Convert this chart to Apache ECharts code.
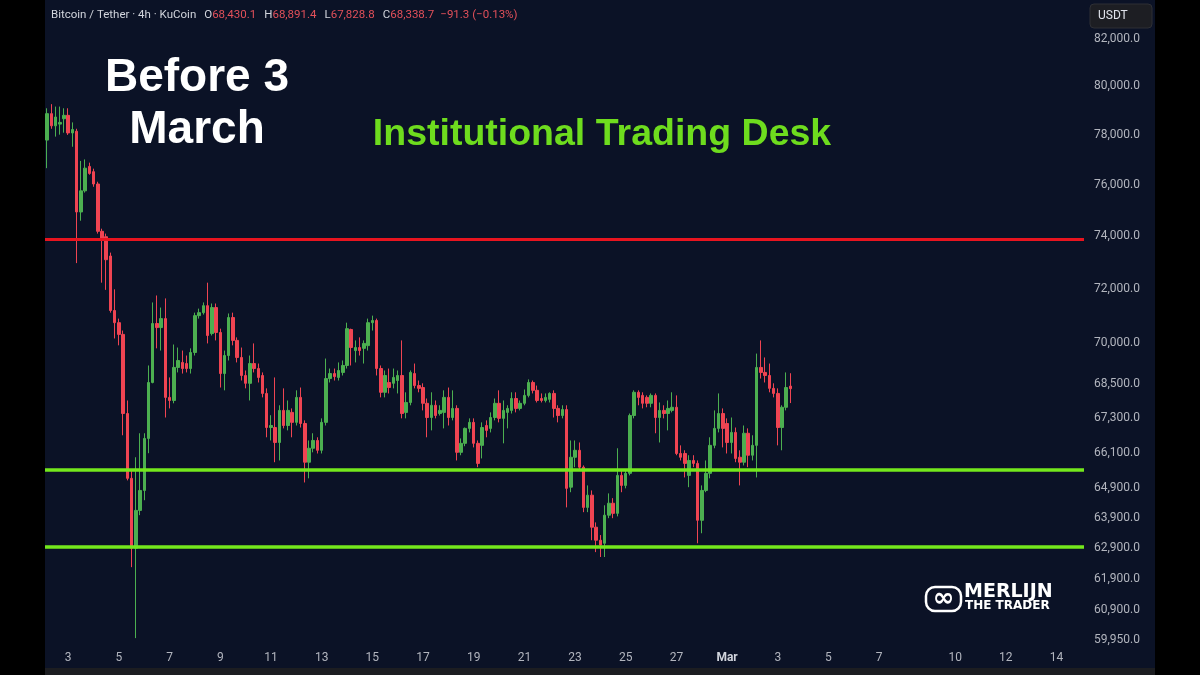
<!DOCTYPE html>
<html>
<head>
<meta charset="utf-8">
<script src="https://cdn.jsdelivr.net/npm/echarts@6/dist/echarts.min.js"></script>
<style>
  html, body { margin: 0; padding: 0; background: #000; }
  #chart { width: 1200px; height: 675px; }
</style>
</head>
<body>
<div id="chart"></div>
<script>
// BTC/USDT 4h candles, KuCoin — first candle opens 2 Feb 04:00 UTC
const firstCandle = Date.UTC(2026, 1, 2, 4, 0);
const slotCount = 246;             // 4h slots shown on the time axis (to mid-March)

const openP = [
  77790, 78870, 78370, 78440, 78660, 78800, 78080, 78150, 74930, 75760,
  76730, 76520, 76030, 74180, 73970, 73230, 71180, 70730, 70300, 67460,
  65220, 62890, 64140, 64810, 66590, 68560, 70700, 70550, 70880, 68030,
  67920, 69100, 69280, 69240, 69060, 69640, 70990, 71100, 71360, 70330,
  71290, 70370, 68880, 69530, 70920, 70080, 69460, 68810, 68530, 69240,
  69060, 68810, 68170, 66970, 66970, 66450, 67570, 67040, 67500, 67150,
  68030, 67110, 65770, 66250, 66520, 66180, 67150, 68700, 68880, 68740,
  68920, 69170, 70480, 69710, 69820, 69790, 69890, 70730, 70810, 69060,
  68210, 68560, 68530, 68630, 68810, 67500, 67850, 68880, 68450, 68380,
  67820, 67320, 67750, 67460, 67500, 68030, 67320, 67640, 66110, 66420,
  66940, 67150, 66420, 66350, 67040, 66940, 67320, 67820, 67290, 67500,
  67570, 67990, 67640, 67820, 68100, 68560, 68280, 67990, 67920, 67960,
  68170, 67640, 67390, 67600, 64920, 65940, 66180, 65600, 64240, 64650,
  63580, 63150, 63050, 63980, 64380, 64040, 65320, 64980, 65390, 67390,
  68210, 68100, 68030, 67820, 68100, 67320, 67570, 67460, 67570, 67680,
  66070, 66070, 65320, 65830, 65730, 63810, 64810, 65390, 66350, 66940,
  67460, 67110, 66450, 66800, 65940, 65770, 66770, 66010, 66350, 69100,
  68920, 68810, 68350, 68170, 66970, 67680, 68430.1
];
const closeP = [
  78870, 78370, 78730, 78510, 78800, 78080, 78220, 74930, 75760, 76660,
  76450, 76030, 74180, 73910, 73090, 71180, 70730, 70300, 67460, 65220,
  62890, 64140, 64810, 66590, 68560, 70700, 70550, 70880, 68030, 67920,
  69100, 69350, 69060, 69060, 69640, 70990, 71100, 71360, 70260, 71290,
  70370, 68880, 69530, 70920, 70080, 69460, 68810, 68530, 69240, 69060,
  68740, 68170, 66970, 67040, 66450, 67570, 67040, 67570, 67150, 68030,
  67110, 65770, 66250, 66520, 66180, 67150, 68700, 68880, 68770, 68990,
  69170, 70510, 69820, 69820, 69710, 69970, 70730, 70810, 69060, 68210,
  68810, 68380, 68740, 68810, 67460, 67850, 68920, 68450, 68350, 67820,
  67320, 67750, 67390, 67570, 68030, 67320, 67640, 66110, 66420, 66940,
  67150, 66420, 65730, 66970, 66870, 67320, 67820, 67290, 67570, 67640,
  67990, 67640, 67820, 68100, 68560, 68280, 67920, 67920, 68030, 68170,
  67640, 67390, 67600, 64880, 65940, 66180, 65600, 64240, 64650, 63580,
  63150, 62990, 63980, 64380, 64040, 65320, 64980, 65390, 67390, 68210,
  68030, 67820, 67820, 68100, 67320, 67570, 67460, 67640, 67680, 66070,
  65940, 65730, 65830, 65730, 63810, 64810, 65390, 66350, 66940, 67460,
  66940, 66450, 66800, 65900, 65770, 66770, 66010, 66350, 69100, 68920,
  68810, 68350, 68170, 66970, 67680, 68380, 68338.7
];
const lowP = [
  76660, 78250, 77930, 78010, 78090, 78000, 77520, 72960, 74590, 75690,
  76400, 75920, 74090, 72220, 71950, 71100, 70150, 69900, 66700, 65150,
  62270, 60010, 63980, 64480, 66080, 68530, 69790, 69710, 67320, 67640,
  67820, 68920, 68880, 68920, 68880, 69530, 70880, 71030, 69970, 70260,
  70080, 68380, 68280, 69350, 69900, 69280, 68630, 68350, 67920, 68920,
  68560, 68030, 66630, 66520, 65770, 65830, 66940, 66870, 66630, 67040,
  66970, 65080, 65220, 66110, 66070, 66070, 67040, 68560, 68630, 68630,
  68810, 69060, 69170, 69280, 69530, 69240, 69710, 70440, 68810, 68030,
  68030, 68170, 68350, 68170, 67290, 67290, 67750, 68350, 68210, 67570,
  66630, 66870, 67290, 67390, 66940, 67040, 67220, 65830, 66010, 66320,
  66800, 66280, 65600, 65900, 66630, 66800, 67220, 67150, 66420, 66940,
  67460, 67500, 67570, 67750, 68030, 68170, 67850, 67850, 67850, 67850,
  67320, 67150, 67290, 64240, 64750, 65600, 65490, 64080, 64080, 63150,
  62760, 62600, 62600, 63880, 63880, 63940, 64750, 64880, 65320, 67290,
  67750, 67640, 67680, 67680, 66770, 66450, 67290, 66870, 67500, 66010,
  65830, 65250, 64920, 65600, 63050, 63380, 64750, 65220, 66250, 66800,
  66280, 66070, 66070, 65770, 64980, 65660, 65600, 65830, 65250, 68700,
  68560, 68210, 68030, 66350, 66180, 67570, 67828.8
];
const highP = [
  79090, 79260, 79160, 79160, 79090, 79090, 78510, 78250, 76950, 77010,
  76880, 76640, 76120, 74280, 74090, 73360, 71970, 70880, 70440, 67920,
  65490, 65940, 66770, 66770, 69170, 71480, 71740, 71290, 71630, 68740,
  69930, 69820, 69710, 69530, 69790, 71100, 71250, 71480, 72220, 71440,
  71440, 70510, 69710, 71070, 71100, 70190, 69820, 68990, 69530, 69970,
  69240, 68920, 68350, 67400, 68740, 67750, 68350, 67920, 67640, 68280,
  68380, 67220, 66520, 66770, 66630, 67290, 69420, 69060, 69060, 69280,
  69350, 70730, 70510, 70080, 70190, 70080, 70880, 70990, 70880, 69170,
  68990, 69060, 69060, 68990, 70080, 68210, 68990, 69240, 68630, 68530,
  67990, 68210, 67920, 67750, 68280, 68380, 68280, 67750, 66590, 66970,
  67290, 67290, 66520, 67150, 67220, 67500, 67990, 68280, 67920, 67750,
  68210, 68210, 67920, 68310, 68670, 68630, 68450, 68170, 68170, 68210,
  68280, 67750, 67750, 67750, 66520, 66520, 66450, 65660, 64980, 64810,
  63740, 63320, 64310, 64710, 64550, 66250, 65490, 65490, 67460, 68280,
  68280, 68210, 68100, 68170, 68170, 67850, 67750, 67920, 68210, 68100,
  66350, 66180, 66010, 66010, 65830, 64980, 65830, 66630, 67570, 68170,
  67640, 67290, 67320, 66970, 66180, 67040, 66940, 66700, 69600, 70080,
  69460, 69240, 68530, 68350, 67750, 68920, 68891.4
];

// price-scale labels (log scale)
const priceTicks = [82000, 80000, 78000, 76000, 74000, 72000, 70000, 68500,
                    67300, 66100, 64900, 63900, 62900, 61900, 60900, 59950];
const priceRange = [59795, 83637];
// day labels on the time scale (MM-DD at 00:00)
const dayTicks = ['02-03', '02-05', '02-07', '02-09', '02-11', '02-13', '02-15',
                  '02-17', '02-19', '02-21', '02-23', '02-25', '02-27', '03-01',
                  '03-03', '03-05', '03-07', '03-10', '03-12', '03-14'];
// drawn horizontal levels
const resistanceLevels = [73670];
const supportLevels = [65640, 62750];

const pad = n => (n < 10 ? '0' : '') + n;
const slots = [];
for (let i = 0; i < slotCount; i++) {
  const d = new Date(firstCandle + i * 4 * 3600 * 1000);
  slots.push(pad(d.getUTCMonth() + 1) + '-' + pad(d.getUTCDate()) + ' ' + pad(d.getUTCHours()));
}
const tickSet = new Set(dayTicks.map(d => d + ' 00'));

const candles = openP.map((o, i) => [Math.log(o), Math.log(closeP[i]), Math.log(lowP[i]), Math.log(highP[i])]);

function fmtPrice(v) {
  const n = Math.round(Math.exp(v));
  return String(n).replace(/\B(?=(\d{3})+(?!\d))/g, ',') + '.0';
}

const UP = '#4caf50', DOWN = '#ef4452';
const FONT = 'Roboto, "Noto Sans", sans-serif';

const chart = echarts.init(document.getElementById('chart'), null, { renderer: 'canvas' });
chart.setOption({
  animation: false,
  backgroundColor: '#0b1226',
  grid: { left: 45, right: 116, top: 1, bottom: 30 },
  xAxis: {
    type: 'category',
    data: slots,
    boundaryGap: true,
    axisLine: { show: false },
    axisTick: { show: false },
    splitLine: { show: false },
    axisLabel: {
      interval: (idx, val) => tickSet.has(val),
      color: '#b2b5be',
      fontFamily: FONT,
      fontSize: 12,
      margin: 7,
      formatter: val => {
        const m = +val.slice(0, 2), d = +val.slice(3, 5);
        return (m === 3 && d === 1) ? '{b|Mar}' : String(d);
      },
      rich: { b: { fontWeight: 'bold', color: '#d1d4dc', fontFamily: FONT, fontSize: 12 } }
    }
  },
  yAxis: {
    type: 'value',
    position: 'right',
    min: Math.log(priceRange[0]),
    max: Math.log(priceRange[1]),
    axisLine: { show: false },
    axisTick: { show: false },
    splitLine: { show: false },
    axisLabel: {
      customValues: priceTicks.map(p => Math.log(p)),
      formatter: fmtPrice,
      color: '#b2b5be',
      fontFamily: FONT,
      fontSize: 12,
      margin: 10
    }
  },
  series: [{
    type: 'candlestick',
    data: candles,
    barWidth: 3,
    itemStyle: { color: UP, color0: DOWN, borderColor: UP, borderColor0: DOWN, borderWidth: 1 },
    emphasis: { disabled: true },
    markLine: {
      symbol: 'none',
      silent: true,
      label: { show: false },
      data: [
        ...resistanceLevels.map(p => ({ yAxis: Math.log(p), lineStyle: { color: '#e8141f', width: 3, type: 'solid' } })),
        ...supportLevels.map(p => ({ yAxis: Math.log(p), lineStyle: { color: '#74e81c', width: 3.5, type: 'solid' } }))
      ]
    }
  }],
  graphic: [
    { type: 'rect', z: 100, shape: { x: 0, y: 0, width: 45, height: 675 }, style: { fill: '#000' } },
    { type: 'rect', z: 100, shape: { x: 1155, y: 0, width: 45, height: 675 }, style: { fill: '#000' } },
    { type: 'rect', z: 100, shape: { x: 45, y: 668, width: 1110, height: 7 }, style: { fill: '#1c1d21' } },
    { type: 'rect', z: 100, shape: { x: 1090, y: 4, width: 62, height: 24, r: 4 }, style: { fill: '#1d1e23', stroke: '#2e2f35', lineWidth: 1 } },
    { type: 'text', z: 101, style: { text: 'USDT', x: 1098, y: 16, fill: '#e0e3eb', font: '12px ' + FONT, textVerticalAlign: 'middle' } },
    {
      type: 'text', z: 101,
      style: {
        x: 51, y: 15, textVerticalAlign: 'middle',
        text: '{w|Bitcoin / Tether · 4h · KuCoin}{k|O}{r|68,430.1}{k|H}{r|68,891.4}{k|L}{r|67,828.8}{k|C}{r|68,338.7}{d|−91.3 (−0.13%)}',
        rich: {
          w: { fill: '#d1d4dc', fontSize: 11.5, fontFamily: FONT },
          k: { fill: '#d1d4dc', fontSize: 11.5, fontFamily: FONT, padding: [0, 0, 0, 8] },
          r: { fill: '#e2505a', fontSize: 11.5, fontFamily: FONT },
          d: { fill: '#e2505a', fontSize: 11.5, fontFamily: FONT, padding: [0, 0, 0, 6] }
        }
      }
    },
    { type: 'text', z: 101, style: { text: 'Before 3', x: 197, y: 78, fill: '#ffffff', font: 'bold 46px "Liberation Sans", Arial, sans-serif', textAlign: 'center', textVerticalAlign: 'middle' } },
    { type: 'text', z: 101, style: { text: 'March', x: 197, y: 130, fill: '#ffffff', font: 'bold 46px "Liberation Sans", Arial, sans-serif', textAlign: 'center', textVerticalAlign: 'middle' } },
    { type: 'text', z: 101, style: { text: 'Institutional Trading Desk', x: 602, y: 135, fill: '#6edc1e', font: 'bold 37.5px "Liberation Sans", Arial, sans-serif', textAlign: 'center', textVerticalAlign: 'middle' } },
    { type: 'rect', z: 101, shape: { x: 926, y: 587, width: 35, height: 24, r: 9 }, style: { fill: 'none', stroke: '#ffffff', lineWidth: 2.5 } },
    { type: 'text', z: 101, style: { text: '∞', x: 943.5, y: 599, fill: '#ffffff', font: 'bold 26px "DejaVu Sans", sans-serif', textAlign: 'center', textVerticalAlign: 'middle' } },
    { type: 'text', z: 101, style: { text: 'MERLIJN', x: 964, y: 592, fill: '#ffffff', font: 'bold 19px "DejaVu Sans", sans-serif', textVerticalAlign: 'middle' } },
    { type: 'text', z: 101, style: { text: 'THE TRADER', x: 965, y: 606, fill: '#ffffff', font: 'bold 12px "DejaVu Sans", sans-serif', textVerticalAlign: 'middle' } }
  ]
});
</script>
</body>
</html>
